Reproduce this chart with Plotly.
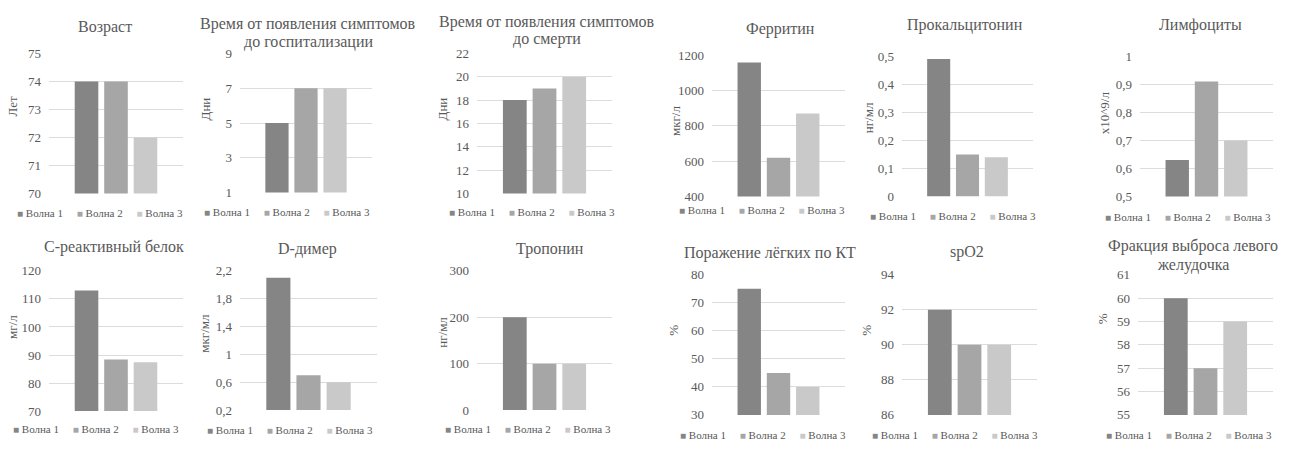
import plotly.graph_objects as go

# Series (one per wave of the epidemic)
waves = ["Волна 1", "Волна 2", "Волна 3"]

# Indicator titles ("\n" marks a line break) and measurement units
titles = [
    "Возраст",
    "Время от появления симптомов\nдо госпитализации",
    "Время от появления симптомов\nдо смерти",
    "Ферритин",
    "Прокальцитонин",
    "Лимфоциты",
    "С-реактивный белок",
    "D-димер",
    "Тропонин",
    "Поражение лёгких по КТ",
    "spO2",
    "Фракция выброса левого\nжелудочка",
]
units = ["Лет", "Дни", "Дни", "мкг/л", "нг/мл", "x10^9/л",
         "мг/л", "мкг/мл", "нг/мл", "%", "%", "%"]

# Values per indicator, ordered as waves 1, 2, 3
age = [74, 74, 72]
days_to_hospital = [5, 7, 7]
days_to_death = [18, 19, 20]
ferritin = [1160, 620, 870]
procalcitonin = [0.49, 0.15, 0.14]
lymphocytes = [0.63, 0.91, 0.70]
crp = [113, 88.4, 87.4]
d_dimer = [2.1, 0.7, 0.6]
troponin = [200, 100, 100]
ct_lesion = [75, 45, 40]
spo2 = [92, 90, 90]
lvef = [60, 57, 59]

values = [age, days_to_hospital, days_to_death, ferritin, procalcitonin,
          lymphocytes, crp, d_dimer, troponin, ct_lesion, spo2, lvef]

# Value-axis scales
y_min = [70, 1, 10, 400, 0, 0.5, 70, 0.2, 0, 30, 86, 55]
y_max = [75, 9, 22, 1200, 0.5, 1, 120, 2.2, 300, 80, 94, 61]
y_step = [1, 2, 2, 200, 0.1, 0.1, 10, 0.4, 100, 10, 2, 1]

# ---- styling / layout ----
W, H = 1299, 450
wave_colors = ["#858585", "#a6a6a6", "#c9c9c9"]
text_color = "#595959"
grid_color = "#dcdcdc"
font_family = "Liberation Serif"

# plot areas in pixels: (left, right, top, bottom)
plot_boxes = [
    (49, 183, 48, 193), (240, 372, 48, 192), (477, 612, 48, 193),
    (712, 845, 50, 196), (902, 1033, 51, 196), (1140, 1273, 51, 196),
    (49, 183, 273, 418), (240, 377, 273, 417), (477, 612, 273, 417),
    (712, 845, 277, 422), (902, 1037, 277, 422), (1138, 1273, 277, 422),
]
# title centre x and the y of each title line
title_pos = [
    (105, [21]), (308, [18, 36]), (547, [16, 33]),
    (780, [23]), (965, [19]), (1200, [19]),
    (114, [248]), (307, [250]), (550, [250]),
    (770, [254]), (967, [253]), (1193, [247, 267]),
]
unit_pos = [
    (13, 103), (205, 106), (442, 106), (675, 118), (868, 115), (1104, 110),
    (13, 331), (205, 338), (443, 337), (674, 335), (867, 335), (1102, 323),
]
legend_pos = [
    (100, 213), (287, 212), (532, 212), (762, 210), (953, 216), (1188, 217),
    (96, 437), (290, 438), (528, 437), (763, 443), (955, 443), (1189, 443),
]


def px_x(x):
    return x / W


def px_y(y):
    return 1 - y / H


fig = go.Figure()
annotations = []
layout_axes = {}

for i, (title, unit, vals) in enumerate(zip(titles, units, values)):
    sfx = "" if i == 0 else str(i + 1)
    xa, ya = "x" + sfx, "y" + sfx
    left, right, top, bottom = plot_boxes[i]

    for name, color, v in zip(waves, wave_colors, vals):
        fig.add_trace(go.Bar(
            x=[title], y=[v], name=name, xaxis=xa, yaxis=ya,
            marker=dict(color=color, line=dict(width=0)),
            showlegend=False,
            hovertemplate=name + ": %{y}<extra></extra>",
        ))

    layout_axes["xaxis" + sfx] = dict(
        domain=[px_x(left), px_x(right)], anchor=ya,
        showticklabels=False, showgrid=False, zeroline=False,
        showline=False, ticks="", fixedrange=True,
    )
    layout_axes["yaxis" + sfx] = dict(
        domain=[px_y(bottom), px_y(top)], anchor=xa,
        range=[y_min[i], y_max[i]], tick0=y_min[i], dtick=y_step[i],
        showgrid=True, gridcolor=grid_color, gridwidth=1,
        zeroline=False, showline=False, ticks="",
        ticklabelstandoff=7,
        tickfont=dict(family=font_family, size=13, color=text_color),
        fixedrange=True,
    )

    # chart title, one annotation per line
    tx, ty_lines = title_pos[i]
    for line, ty in zip(title.split("\n"), ty_lines):
        annotations.append(dict(
            text=line, x=px_x(tx), y=px_y(ty), xref="paper", yref="paper",
            xanchor="center", yanchor="middle", showarrow=False,
            font=dict(family=font_family, size=16, color=text_color),
        ))

    # value-axis title
    ux, uy = unit_pos[i]
    annotations.append(dict(
        text=unit, x=px_x(ux), y=px_y(uy), xref="paper", yref="paper",
        xanchor="center", yanchor="middle", textangle=-90, showarrow=False,
        font=dict(family=font_family, size=13, color=text_color),
    ))

    # legend row for this chart
    gap = "\u00a0" * 5
    entries = [
        f'<span style="color:{c};font-size:10px">■</span>\u00a0{n}'
        for n, c in zip(waves, wave_colors)
    ]
    lx, ly = legend_pos[i]
    annotations.append(dict(
        text=gap.join(entries), x=px_x(lx), y=px_y(ly),
        xref="paper", yref="paper", xanchor="center", yanchor="middle",
        showarrow=False,
        font=dict(family=font_family, size=11, color=text_color),
    ))

fig.update_layout(
    width=W, height=H,
    margin=dict(l=0, r=0, t=0, b=0),
    paper_bgcolor="white", plot_bgcolor="white",
    barmode="group", bargap=0.34, bargroupgap=0.2,
    separators=", ",
    font=dict(family=font_family, color=text_color),
    annotations=annotations,
    **layout_axes,
)

fig.write_html("out.html")
